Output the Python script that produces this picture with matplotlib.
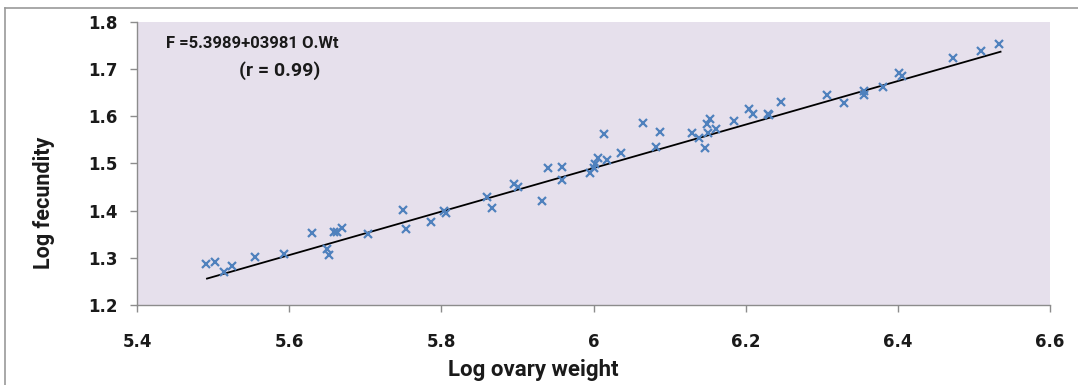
import numpy as np
import matplotlib
matplotlib.use("Agg")
import matplotlib.pyplot as plt
from matplotlib.lines import Line2D

# Data
log_ovary_weight = [
    5.491, 5.503, 5.515, 5.525, 5.555, 5.593, 5.630, 5.650, 5.653, 5.659,
    5.663, 5.669, 5.704, 5.750, 5.754, 5.786, 5.803, 5.806, 5.860, 5.866,
    5.896, 5.901, 5.932, 5.940, 5.959, 5.959, 5.996, 6.000, 6.002, 6.006,
    6.014, 6.018, 6.036, 6.065, 6.082, 6.087, 6.129, 6.139, 6.146, 6.149,
    6.153, 6.150, 6.161, 6.185, 6.204, 6.209, 6.229, 6.231, 6.247, 6.307,
    6.329, 6.356, 6.356, 6.380, 6.401, 6.406, 6.472, 6.509, 6.533,
]
log_fecundity = [
    1.287, 1.291, 1.271, 1.283, 1.302, 1.309, 1.352, 1.318, 1.306, 1.354,
    1.355, 1.363, 1.350, 1.402, 1.362, 1.377, 1.400, 1.395, 1.428, 1.406,
    1.457, 1.450, 1.421, 1.490, 1.492, 1.464, 1.480, 1.491, 1.499, 1.511,
    1.563, 1.508, 1.523, 1.586, 1.535, 1.567, 1.565, 1.554, 1.533, 1.584,
    1.594, 1.565, 1.574, 1.591, 1.616, 1.604, 1.606, 1.603, 1.630, 1.645,
    1.629, 1.653, 1.645, 1.662, 1.691, 1.685, 1.723, 1.739, 1.753,
]

# Linear trendline end points
trend_x = [5.492, 6.535]
trend_y = [1.256, 1.737]

x_ticks = [5.4, 5.6, 5.8, 6.0, 6.2, 6.4, 6.6]
x_ticklabels = ["5.4", "5.6", "5.8", "6", "6.2", "6.4", "6.6"]
y_ticks = [1.2, 1.3, 1.4, 1.5, 1.6, 1.7, 1.8]
y_ticklabels = ["1.2", "1.3", "1.4", "1.5", "1.6", "1.7", "1.8"]

equation_text = "F =5.3989+03981 O.Wt"
r_text = "(r = 0.99)"
x_label = "Log ovary weight"
y_label = "Log fecundity"

TXT_FONT = ["Roboto", "DejaVu Sans"]

W, H = 1078, 385
fig = plt.figure(figsize=(W / 100, H / 100), dpi=100)
fig.patch.set_facecolor("white")

ax = fig.add_axes([137 / W, 1 - 305 / H, (1050 - 137) / W, (305 - 22) / H])
ax.set_facecolor("#E6E0EC")

ax.plot(log_ovary_weight, log_fecundity, linestyle="none", marker="x",
        color="#4F81BD", markersize=5.5, markeredgewidth=1.6, zorder=3)

ax.plot(trend_x, trend_y, color="black", linewidth=1.3, zorder=2)

ax.set_xlim(5.4, 6.6)
ax.set_ylim(1.2, 1.8)
ax.set_xticks(x_ticks)
ax.set_xticklabels(x_ticklabels)
ax.set_yticks(y_ticks)
ax.set_yticklabels(y_ticklabels)

for s in ["top", "right"]:
    ax.spines[s].set_visible(False)
for s in ["left", "bottom"]:
    ax.spines[s].set_color("#8C8C8C")
    ax.spines[s].set_linewidth(1.0)

ax.tick_params(axis="both", direction="out", length=5, width=1,
               color="#8C8C8C", labelsize=12, labelcolor="#1a1a1a")
ax.tick_params(axis="x", pad=15)
ax.tick_params(axis="y", pad=9)
for lab in ax.get_xticklabels() + ax.get_yticklabels():
    lab.set_fontweight("bold")
    lab.set_family("DejaVu Sans")

ax.set_xlabel(x_label, fontsize=16, fontweight="bold", family=TXT_FONT,
              color="#1a1a1a", va="center", ha="center")
ax.xaxis.set_label_coords((533 - 137) / 913, (305 - 370) / 283)
ax.set_ylabel(y_label, fontsize=15.5, fontweight="bold", family=TXT_FONT,
              color="#1a1a1a", va="center", ha="center")
ax.yaxis.set_label_coords((44 - 137) / 913, (305 - 203) / 283)

fig.text(252 / W, 1 - 44 / H, equation_text, ha="center", va="center",
         fontsize=12, fontweight="bold", family=TXT_FONT, color="#1a1a1a")
fig.text(280 / W, 1 - 71 / H, r_text, ha="center", va="center",
         fontsize=14, fontweight="bold", family=TXT_FONT, color="#1a1a1a")

# Outer chart border (left and top visible)
border_kw = dict(transform=fig.transFigure, color="#9A9A9A", linewidth=1.2)
fig.lines.append(Line2D([4.5 / W, 4.5 / W], [0, 1 - 8 / H], **border_kw))
fig.lines.append(Line2D([4.5 / W, 1], [1 - 8 / H, 1 - 8 / H], **border_kw))

fig.savefig("out.png", dpi=100)
